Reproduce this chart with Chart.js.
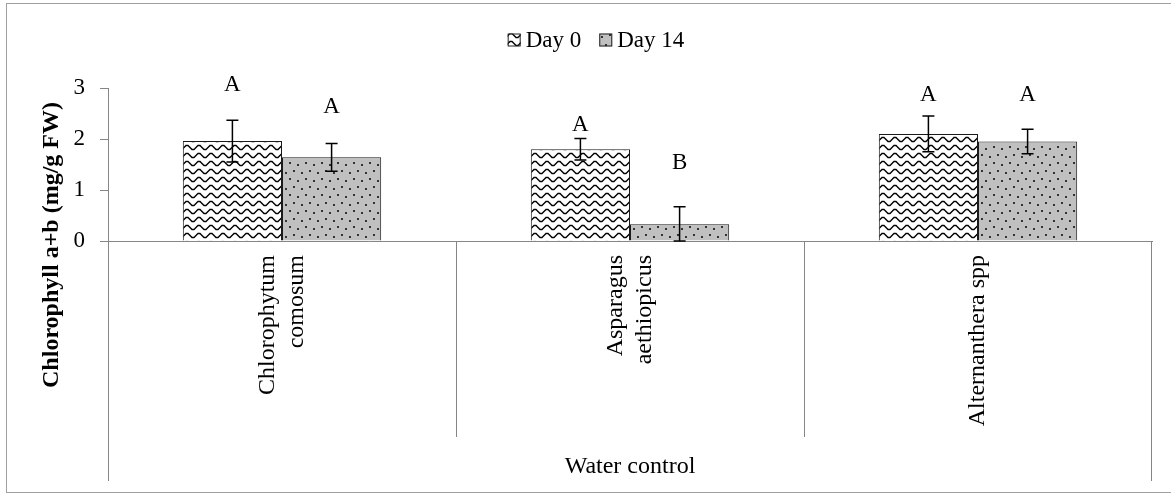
<!DOCTYPE html>
<html>
<head>
<meta charset="utf-8">
<script src="https://cdn.jsdelivr.net/npm/chart.js@4.4.1/dist/chart.umd.min.js"></script>
<style>
  html, body { margin: 0; padding: 0; background: #fff; }
</style>
</head>
<body>
<canvas id="grafico" width="1171" height="494"></canvas>
<script>
//--------------------------------------------------
// DADOS
//--------------------------------------------------

const categorias = [['Chlorophytum', 'comosum'], ['Asparagus', 'aethiopicus'], ['Alternanthera spp']];
const grupo      = 'Water control';
const series     = ['Day 0', 'Day 14'];

const day0   = [1.96, 1.80, 2.10];
const day14  = [1.64, 0.33, 1.95];
const erro0  = [0.41, 0.21, 0.35];
const erro14 = [0.27, 0.34, 0.24];

const letras0        = ['A', 'A', 'A'];
const letras14       = ['A', 'B', 'A'];
const alturaLetras0  = [3.06, 2.27, 2.86];
const alturaLetras14 = [2.63, 1.53, 2.86];

const yTicks  = [0, 1, 2, 3];
const tituloY = 'Chlorophyll a+b (mg/g FW)';

//--------------------------------------------------
// ESTILO
//--------------------------------------------------

const FONTE = "'Liberation Serif', 'Times New Roman', serif";
const CINZA = '#868686';

//--------------------------------------------------
// PADRÕES DE PREENCHIMENTO
//--------------------------------------------------

function padraoOndas() {
  const c = document.createElement('canvas');
  c.width = 12;
  c.height = 8;
  const g = c.getContext('2d');
  g.fillStyle = '#fff';
  g.fillRect(0, 0, 12, 8);
  g.strokeStyle = '#000';
  g.lineWidth = 1.3;
  g.beginPath();
  g.moveTo(-1, 5.5);
  g.lineTo(2, 5.5);
  g.lineTo(6, 1.5);
  g.lineTo(8, 1.5);
  g.lineTo(12, 5.5);
  g.lineTo(13, 5.5);
  g.stroke();
  return g.createPattern(c, 'repeat');
}

function padraoPontos() {
  const c = document.createElement('canvas');
  c.width = 16;
  c.height = 16;
  const g = c.getContext('2d');
  g.fillStyle = '#c0c0c0';
  g.fillRect(0, 0, 16, 16);
  g.fillStyle = '#333';
  [[1, 2], [9, 4], [5, 10], [13, 12]].forEach(([x, y]) => g.fillRect(x, y, 2, 2));
  return g.createPattern(c, 'repeat');
}

//--------------------------------------------------
// PLUGIN: EIXOS, RÓTULOS, ERROS, LETRAS, LEGENDA
//--------------------------------------------------

const decoracao = {
  id: 'decoracao',

  afterDatasetsDraw(chart) {
    const ctx = chart.ctx;
    const yScale = chart.scales.y;

    chart.data.datasets.forEach((ds, i) => {
      const meta = chart.getDatasetMeta(i);
      meta.data.forEach((bar, j) => {
        const v  = ds.data[j];
        const e  = ds.erros[j];
        const yT = yScale.getPixelForValue(v + e);
        const yB = yScale.getPixelForValue(Math.max(0, v - e));

        // barra de erro
        ctx.save();
        ctx.strokeStyle = '#000';
        ctx.lineWidth = 1.5;
        ctx.beginPath();
        ctx.moveTo(bar.x, yT);
        ctx.lineTo(bar.x, yB);
        ctx.moveTo(bar.x - 6, yT);
        ctx.lineTo(bar.x + 6, yT);
        ctx.moveTo(bar.x - 6, yB);
        ctx.lineTo(bar.x + 6, yB);
        ctx.stroke();

        // letra de significância
        ctx.fillStyle = '#000';
        ctx.font = '23px ' + FONTE;
        ctx.textAlign = 'center';
        ctx.textBaseline = 'middle';
        ctx.fillText(ds.letras[j], bar.x, yScale.getPixelForValue(ds.alturaLetras[j]));
        ctx.restore();
      });
    });
  },

  afterDraw(chart) {
    const ctx = chart.ctx;
    const area = chart.chartArea;
    const xScale = chart.scales.x;

    ctx.save();

    //-----------------------------------
    // MOLDURA
    //-----------------------------------

    ctx.strokeStyle = '#a0a0a0';
    ctx.lineWidth = 1;
    ctx.strokeRect(6.5, 3.5, 1200, 489);

    //-----------------------------------
    // LINHAS DO EIXO DE CATEGORIAS
    //-----------------------------------

    ctx.strokeStyle = CINZA;
    ctx.lineWidth = 1;
    ctx.beginPath();
    ctx.moveTo(area.left + 0.5, area.bottom);
    ctx.lineTo(area.left + 0.5, area.bottom + 240);
    ctx.moveTo(area.right - 0.5, area.bottom);
    ctx.lineTo(area.right - 0.5, area.bottom + 240);
    for (let i = 0; i < categorias.length - 1; i++) {
      const xs = Math.round((xScale.getPixelForValue(i) + xScale.getPixelForValue(i + 1)) / 2) + 0.5;
      ctx.moveTo(xs, area.bottom);
      ctx.lineTo(xs, area.bottom + 196);
    }
    ctx.stroke();

    //-----------------------------------
    // RÓTULOS DAS CATEGORIAS (verticais)
    //-----------------------------------

    ctx.fillStyle = '#000';
    ctx.font = '24px ' + FONTE;
    categorias.forEach((cat, i) => {
      const cx = xScale.getPixelForValue(i);
      const linhas = Array.isArray(cat) ? cat : [cat];
      ctx.save();
      ctx.translate(cx, area.bottom + 14);
      ctx.rotate(-Math.PI / 2);
      ctx.textAlign = 'right';
      ctx.textBaseline = 'middle';
      linhas.forEach((l, k) => {
        ctx.fillText(l, 0, (k - (linhas.length - 1) / 2) * 29);
      });
      ctx.restore();
    });

    //-----------------------------------
    // RÓTULO DO GRUPO
    //-----------------------------------

    ctx.textAlign = 'center';
    ctx.textBaseline = 'middle';
    ctx.fillText(grupo, (area.left + area.right) / 2, area.bottom + 226);

    //-----------------------------------
    // TÍTULO DO EIXO Y
    //-----------------------------------

    ctx.save();
    ctx.translate(52, 245);
    ctx.rotate(-Math.PI / 2);
    ctx.font = 'bold 24px ' + FONTE;
    ctx.fillText(tituloY, 0, 0);
    ctx.restore();

    //-----------------------------------
    // LEGENDA
    //-----------------------------------

    ctx.font = '23px ' + FONTE;
    const caixa = 13, gap = 5, espaco = 18;
    const larguras = chart.data.datasets.map(ds => ctx.measureText(ds.label).width);
    const total = larguras.reduce((s, w) => s + caixa + gap + w, 0) + espaco * (larguras.length - 1);
    let x = 596 - total / 2;
    const yl = 40;
    chart.data.datasets.forEach((ds, i) => {
      ctx.fillStyle = ds.backgroundColor;
      ctx.fillRect(x, yl - caixa / 2, caixa, caixa);
      ctx.strokeStyle = '#222';
      ctx.strokeRect(x + 0.5, yl - caixa / 2 + 0.5, caixa - 1, caixa - 1);
      ctx.fillStyle = '#000';
      ctx.textAlign = 'left';
      ctx.fillText(ds.label, x + caixa + gap, yl + 1);
      x += caixa + gap + larguras[i] + espaco;
    });

    ctx.restore();
  }
};

//--------------------------------------------------
// GRÁFICO
//--------------------------------------------------

new Chart(document.getElementById('grafico'), {
  type: 'bar',
  data: {
    labels: categorias,
    datasets: [
      {
        label: series[0],
        data: day0,
        erros: erro0,
        letras: letras0,
        alturaLetras: alturaLetras0,
        backgroundColor: padraoOndas(),
        borderColor: '#1a1a1a',
        borderWidth: 1
      },
      {
        label: series[1],
        data: day14,
        erros: erro14,
        letras: letras14,
        alturaLetras: alturaLetras14,
        backgroundColor: padraoPontos(),
        borderColor: '#1a1a1a',
        borderWidth: 1
      }
    ]
  },
  options: {
    responsive: false,
    animation: false,
    categoryPercentage: 0.57,
    barPercentage: 1.0,
    layout: { padding: { top: 88, right: 19, bottom: 0, left: 0 } },
    plugins: {
      legend: { display: false },
      tooltip: { enabled: false }
    },
    scales: {
      x: {
        grid: { display: false },
        ticks: { display: false },
        border: { color: CINZA, width: 1 },
        afterFit: s => { s.height = 253; }
      },
      y: {
        min: 0,
        max: 3,
        afterBuildTicks: s => { s.ticks = yTicks.map(v => ({ value: v })); },
        ticks: { color: '#000', padding: 15, font: { family: FONTE, size: 23 } },
        grid: { drawOnChartArea: false, drawTicks: true, tickLength: 8, color: CINZA },
        border: { color: CINZA, width: 1 },
        afterFit: s => { s.width = 108; }
      }
    }
  },
  plugins: [decoracao]
});
</script>
</body>
</html>
